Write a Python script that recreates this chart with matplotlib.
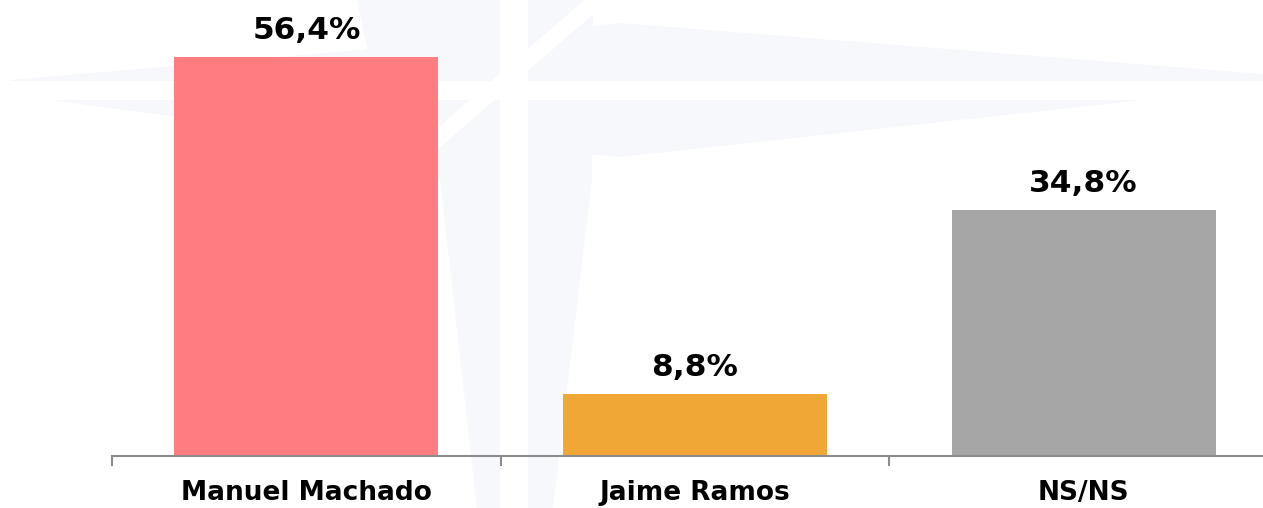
import matplotlib.pyplot as plt
from matplotlib.patches import Polygon

# Data
categories = ["Manuel Machado", "Jaime Ramos", "NS/NS"]
values = [56.4, 8.8, 34.8]
value_labels = ["56,4%", "8,8%", "34,8%"]
colors = ["#FF7C80", "#F0A736", "#A6A6A6"]

W, H = 1263, 508
fig = plt.figure(figsize=(W / 100, H / 100), dpi=100)

# faint watermark in the background (pixel coordinates, y downwards)
bg = fig.add_axes([0, 0, 1, 1], zorder=0)
bg.set_xlim(0, W)
bg.set_ylim(H, 0)
bg.axis("off")
light = "#F6F8FB"
shapes = [
    [(10, 80), (360, 50), (620, 23), (1263, 74), (1263, 92), (1143, 100),
     (620, 157), (380, 135), (170, 116), (50, 100)],
    [(357, 0), (593, 0), (592, 180), (553, 508), (477, 508), (440, 180), (380, 110)],
]
for s in shapes:
    bg.add_patch(Polygon(s, closed=True, facecolor=light, edgecolor="none"))
# white cross cutting the star
bg.add_patch(Polygon([(0, 81), (W, 81), (W, 100), (0, 100)], facecolor="white", edgecolor="none"))
bg.add_patch(Polygon([(500, 0), (528, 0), (528, H), (500, H)], facecolor="white", edgecolor="none"))
bg.add_patch(Polygon([(590, -5), (615, -5), (420, 165), (395, 165)], facecolor="white", edgecolor="none"))

# main chart
ax = fig.add_axes([112 / W, (H - 456) / H, 1166 / W, 456 / H], zorder=1)
ax.patch.set_alpha(0)
x = range(len(categories))
bars = ax.bar(x, values, width=0.68, color=colors)
ax.set_xlim(-0.5, 2.5)
ax.set_ylim(0, 456 / 7.074)

for b, lab in zip(bars, value_labels):
    ax.annotate(lab, (b.get_x() + b.get_width() / 2, b.get_height()),
                xytext=(0, 8.5), textcoords="offset points",
                ha="center", va="bottom", fontsize=22.5, fontweight="bold",
                family="DejaVu Sans", color="black")

for side in ["top", "right", "left"]:
    ax.spines[side].set_visible(False)
ax.spines["bottom"].set_color("#8C8C8C")
ax.spines["bottom"].set_linewidth(1.5)
ax.set_yticks([])
ax.set_xticks(list(x))
ax.set_xticklabels(categories, fontsize=19, fontweight="bold", family="DejaVu Sans")
ax.tick_params(axis="x", which="major", length=0, pad=17)
ax.set_xticks([-0.5, 0.5, 1.5, 2.5], minor=True)
ax.tick_params(axis="x", which="minor", length=7, width=1.5, color="#8C8C8C")

fig.savefig("out.png", dpi=100)
